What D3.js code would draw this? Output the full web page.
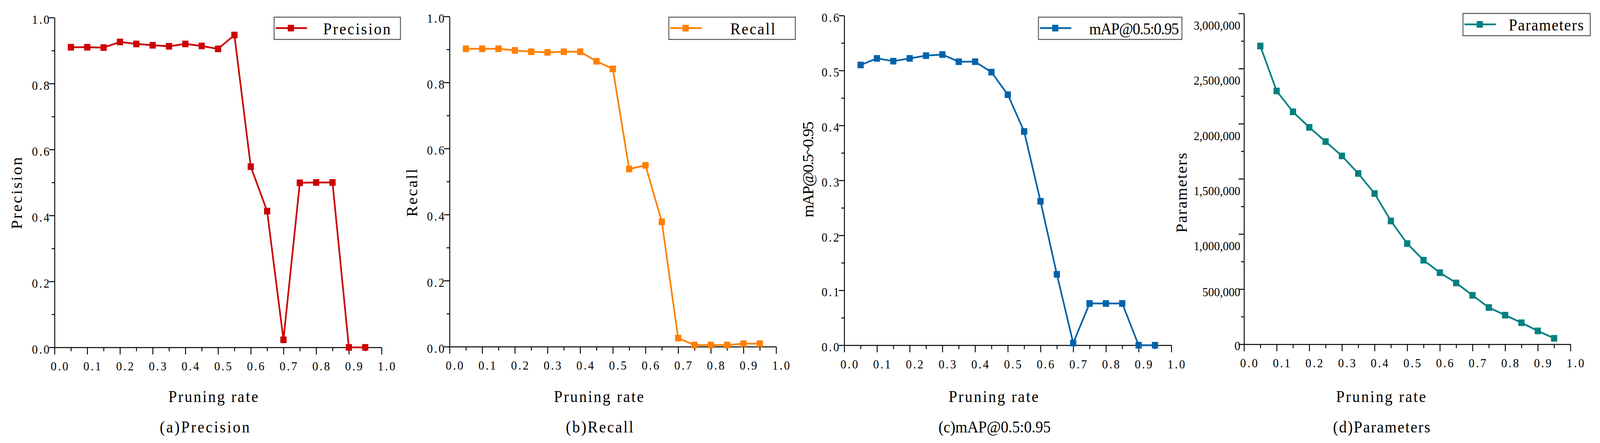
<!DOCTYPE html>
<html><head><meta charset="utf-8">
<script src="https://cdn.jsdelivr.net/npm/d3@7"></script>
<style>
html,body{margin:0;padding:0;background:#fff;overflow:hidden;width:100%;height:100%}
svg{display:block;background:#fff;width:100vw;height:100vh}
text{font-family:"Liberation Serif","DejaVu Serif",serif;fill:#000}
</style>
</head><body>
<svg id="chart" viewBox="0 0 4382 1135" preserveAspectRatio="none"></svg>
<script>
// ---------------- data ----------------
const pruningRates = [0.05,0.10,0.15,0.20,0.25,0.30,0.35,0.40,0.45,0.50,0.55,0.60,0.65,0.70,0.75,0.80,0.85,0.90,0.95];
const precisionValues = [0.910,0.910,0.909,0.926,0.920,0.916,0.913,0.920,0.914,0.905,0.947,0.548,0.413,0.023,0.499,0.500,0.500,0.000,0.000];
const recallValues = [0.902,0.902,0.902,0.897,0.893,0.891,0.893,0.893,0.864,0.841,0.538,0.549,0.378,0.026,0.005,0.005,0.005,0.009,0.009];
const mapValues = [0.510,0.522,0.517,0.522,0.527,0.529,0.516,0.516,0.497,0.456,0.389,0.262,0.129,0.004,0.076,0.076,0.076,0.000,0.000];
const parameterValues = [2705000,2297000,2108000,1967000,1838000,1708000,1549000,1367000,1118000,913000,762000,649000,556000,444000,333000,264000,195000,121000,54000];

const xMajorTicks = [0,0.1,0.2,0.3,0.4,0.5,0.6,0.7,0.8,0.9,1.0];
const xMinorTicks = [0.05,0.15,0.25,0.35,0.45,0.55,0.65,0.75,0.85,0.95];
const yMajorTicksUnit = [0,0.2,0.4,0.6,0.8,1.0];
const yMinorTicksUnit = [0.1,0.3,0.5,0.7,0.9];
const yMajorTicksMap = [0,0.1,0.2,0.3,0.4,0.5,0.6];
const yMinorTicksMap = [0.05,0.15,0.25,0.35,0.45,0.55];
const yMajorTicksParams = [0,500000,1000000,1500000,2000000,2500000,3000000];
const yMinorTicksParams = [250000,750000,1250000,1750000,2250000,2750000];

const seriesNames = ["Precision","Recall","mAP@0.5:0.95","Parameters"];
const yAxisTitles = ["Precision","Recall","mAP@0.5~0.95","Parameters"];
const xAxisTitle = "Pruning rate";
const panelCaptions = ["(a)Precision","(b)Recall","(c)mAP@0.5:0.95","(d)Parameters"];

// ---------------- layout / style ----------------
const panels = [
  {values:precisionValues, color:"#CC0000", yMax:1.0, yMajor:yMajorTicksUnit, yMinor:yMinorTicksUnit, fmt:d3.format(".1f"), times:false,
   L:149.4, R:1045, T:45, B:890, lg:{x:750.7, y:44, w:346, h:57, tx:885},
   yt:{x:45.6, y:495}, xtX:584, capX:560.5},
  {values:recallValues, color:"#FF8000", yMax:1.0, yMajor:yMajorTicksUnit, yMinor:yMinorTicksUnit, fmt:d3.format(".1f"), times:false,
   L:1231.2, R:2125.6, T:42, B:888.2, lg:{x:1831.7, y:44, w:346.5, h:57, tx:2000},
   yt:{x:1128, y:494}, xtX:1640, capX:1642},
  {values:mapValues, color:"#0063AA", yMax:0.6, yMajor:yMajorTicksMap, yMinor:yMinorTicksMap, fmt:d3.format(".1f"), times:false,
   L:2312.2, R:3208, T:39.8, B:884.5, lg:{x:2844, y:44, w:393, h:57, tx:2983},
   yt:{x:2213, y:434}, xtX:2721, capX:2724},
  {values:parameterValues, color:"#008080", yMax:3000000, yMajor:yMajorTicksParams, yMinor:yMinorTicksParams, fmt:d3.format(","), times:true,
   L:3407, R:4301, T:34.5, B:882, lg:{x:4006.7, y:34.5, w:348.6, h:57, tx:4132},
   yt:{x:3235, y:494}, xtX:3782, capX:3784}
];

const svg = d3.select("#chart");
const CH = 20.5;   // per-character advance emulating a half-width CJK serif font
const mono = (sel, per) => sel.attr("textLength", function(){ return this.textContent.length * per; })
                              .attr("lengthAdjust","spacing");

panels.forEach((p, i) => {
  const g = svg.append("g");
  const x = d3.scaleLinear().domain([0,1]).range([p.L, p.R]);
  const y = d3.scaleLinear().domain([0,p.yMax]).range([p.B, p.T]);

  // x axis minor + major
  g.append("g").attr("transform",`translate(0,${p.B})`)
    .call(d3.axisBottom(x).tickValues(xMinorTicks).tickSize(10).tickSizeOuter(0).tickFormat(""))
    .call(a => a.select(".domain").remove());
  const xa = g.append("g").attr("transform",`translate(0,${p.B})`)
    .call(d3.axisBottom(x).tickValues(xMajorTicks).tickSize(18).tickSizeOuter(0).tickFormat(d3.format(".1f")));
  xa.selectAll("text").attr("y",48).attr("dy","0.35em").attr("x",13)
    .style("font-size","32px").style("font-family",'"Liberation Serif",serif').attr("fill","#000");
  mono(xa.selectAll("text"), 16);

  // y axis minor + major
  g.append("g").attr("transform",`translate(${p.L},0)`)
    .call(d3.axisLeft(y).tickValues(p.yMinor).tickSize(8).tickSizeOuter(0).tickFormat(""))
    .call(a => a.select(".domain").remove());
  const ya = g.append("g").attr("transform",`translate(${p.L},0)`)
    .call(d3.axisLeft(y).tickValues(p.yMajor).tickSize(15).tickSizeOuter(0).tickFormat(p.fmt));
  ya.selectAll("text").style("font-size","32px").style("font-family",'"Liberation Serif",serif').attr("fill","#000")
    .attr("dy","0.35em");
  if (p.times) {
    ya.selectAll("text").attr("x",-10).attr("y", d => d >= 1000000 ? 30 : (d > 0 ? 7 : 3));
  } else {
    ya.selectAll("text").attr("x",-14).attr("y",4);
    mono(ya.selectAll("text"), 16);
  }
  g.selectAll(".domain").attr("stroke","#000").attr("stroke-width",2.5);
  g.selectAll(".tick line").attr("stroke","#000").attr("stroke-width",2.5);

  // series
  const pts = pruningRates.map((r,k) => [r, p.values[k]]);
  g.append("path").datum(pts)
    .attr("fill","none").attr("stroke",p.color).attr("stroke-width",4.5).attr("stroke-linejoin","round")
    .attr("d", d3.line().x(d => x(d[0])).y(d => y(d[1])));
  g.selectAll("rect.mk").data(pts).join("rect").attr("class","mk")
    .attr("x", d => x(d[0]) - 8.5).attr("y", d => y(d[1]) - 8.5)
    .attr("width",17).attr("height",17).attr("fill",p.color);

  // legend
  const lg = p.lg;
  g.append("rect").attr("x",lg.x).attr("y",lg.y).attr("width",lg.w).attr("height",lg.h)
    .attr("fill","#fff").attr("stroke","#555").attr("stroke-width",2.5);
  g.append("line").attr("x1",lg.x+4).attr("x2",lg.x+90).attr("y1",lg.y+28).attr("y2",lg.y+28)
    .attr("stroke",p.color).attr("stroke-width",4.5);
  g.append("rect").attr("x",lg.x+46-8.5).attr("y",lg.y+28-8.5).attr("width",17).attr("height",17).attr("fill",p.color);
  mono(g.append("text").attr("x",lg.tx).attr("y",lg.y+44).style("font-size","42px").text(seriesNames[i]), CH);

  // axis titles and caption
  mono(g.append("text").attr("transform",`translate(${p.yt.x},${p.yt.y}) rotate(-90)`)
    .attr("text-anchor","middle").attr("dy","0.35em").style("font-size","42px").text(yAxisTitles[i]), CH);
  mono(g.append("text").attr("x",p.xtX).attr("y",1015.6).attr("text-anchor","middle").attr("dy","0.35em")
    .style("font-size","42px").text(xAxisTitle), CH);
  mono(g.append("text").attr("x",p.capX).attr("y",1093).attr("text-anchor","middle").attr("dy","0.35em")
    .style("font-size","42px").text(panelCaptions[i]), CH);
});
</script>
</body></html>
